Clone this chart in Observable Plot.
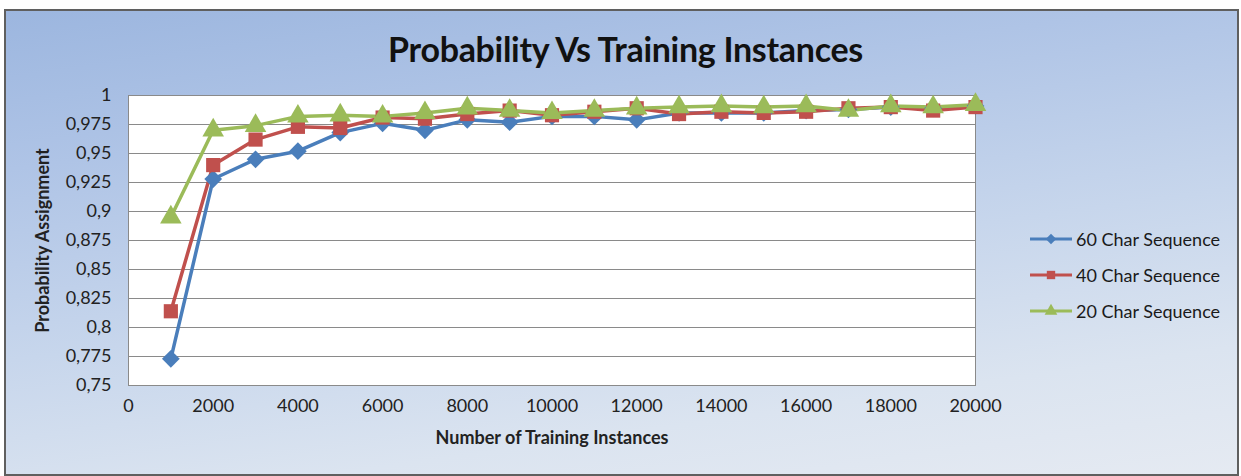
<!DOCTYPE html>
<html>
<head>
<meta charset="utf-8">
<script src="https://cdn.jsdelivr.net/npm/d3@7"></script>
<script src="https://cdn.jsdelivr.net/npm/@observablehq/plot@0.6"></script>
<style>
  html, body { margin: 0; padding: 0; background: #ffffff; }
  #wrap { position: relative; width: 1241px; height: 476px; overflow: hidden; font-family: Lato, "Open Sans", sans-serif; }
  #panel { position: absolute; left: 4px; top: 9px; width: 1231px; height: 463px;
    border: 2px solid #5f5f5f; border-bottom-width: 3px;
    background: linear-gradient(172deg, #9cb6df 0%, #afc4e6 25%, #c7d6ec 55%, #dbe4f0 80%, #e5eaf2 100%); }
  #title { position: absolute; left: 0; width: 1251px; top: 28px; text-align: center;
    font-family: Lato, sans-serif; font-weight: 700; font-size: 34px; color: #111; letter-spacing: -0.3px; }
  #chart { position: absolute; left: 0; top: 0; }
  #legend { position: absolute; left: 1030px; top: 221px; font-size: 18px; color: #1a1a1a; }
  .item { height: 36px; display: flex; align-items: center; }
  .item svg { margin-right: 2px; }
  svg [aria-label="x-axis label"], svg [aria-label="y-axis label"] { font-weight: 700; }
</style>
</head>
<body>
<div id="wrap">
  <div id="panel"></div>
  <div id="title">Probability Vs Training Instances</div>
  <div id="chart"></div>
  <div id="legend"></div>
</div>
<script>
const instances = [1000,2000,3000,4000,5000,6000,7000,8000,9000,10000,11000,12000,13000,14000,15000,16000,17000,18000,19000,20000];
const seq60 = [0.773,0.928,0.945,0.952,0.968,0.976,0.970,0.979,0.977,0.982,0.982,0.979,0.985,0.985,0.985,0.987,0.988,0.990,0.989,0.991];
const seq40 = [0.814,0.940,0.962,0.973,0.972,0.981,0.980,0.984,0.987,0.983,0.986,0.989,0.984,0.986,0.985,0.986,0.989,0.990,0.987,0.990];
const seq20 = [0.895,0.970,0.974,0.982,0.983,0.982,0.985,0.989,0.987,0.985,0.987,0.989,0.990,0.991,0.990,0.991,0.987,0.991,0.990,0.992];
const seriesNames = ["60 Char Sequence", "40 Char Sequence", "20 Char Sequence"];
const seriesColors = ["#4a7ebb", "#c0504d", "#9bbb59"];
const seriesSymbols = ["diamond2", "square", "triangle"];
const xTicks = [0,2000,4000,6000,8000,10000,12000,14000,16000,18000,20000];
const yTicks = [0.75,0.775,0.8,0.825,0.85,0.875,0.9,0.925,0.95,0.975,1];

const values = [seq60, seq40, seq20];
const data = [];
seriesNames.forEach((s, i) => instances.forEach((x, j) => data.push({series: s, x, y: values[i][j]})));

const chart = Plot.plot({
  width: 1241,
  height: 476,
  marginLeft: 128,
  marginRight: 266,
  marginTop: 95,
  marginBottom: 91,
  style: {background: "transparent", fontFamily: "Lato, 'Open Sans', sans-serif", fontSize: "18px", color: "#222"},
  x: {domain: [0, 20000]},
  y: {domain: [0.75, 1]},
  color: {domain: seriesNames, range: seriesColors},
  symbol: {domain: seriesNames, range: seriesSymbols},
  marks: [
    Plot.frame({fill: "white", stroke: "none"}),
    Plot.gridY(yTicks, {stroke: "#8a8a8a", strokeOpacity: 1, strokeWidth: 1}),
    Plot.frame({stroke: "#8a8a8a"}),
    Plot.axisX(xTicks, {tickSize: 0, tickPadding: 14, tickFormat: d => String(d), fontSize: 18,
      label: "Number of Training Instances", labelAnchor: "center", labelArrow: "none", labelOffset: 58}),
    Plot.axisY(yTicks, {tickSize: 0, tickPadding: 17, tickFormat: d => String(d).replace(".", ","), fontSize: 18,
      label: "Probability Assignment", labelAnchor: "center", labelArrow: "none", labelOffset: 92}),
    Plot.line(data, {x: "x", y: "y", z: "series", stroke: "series", strokeWidth: 3.5}),
    Plot.dot(data, {x: "x", y: "y", symbol: "series", fill: "series", stroke: "none", r: 8})
  ]
});
document.getElementById("chart").appendChild(chart);

const legend = document.getElementById("legend");
seriesNames.forEach((s, i) => {
  const item = document.createElement("div");
  item.className = "item";
  const sw = d3.create("svg").attr("width", 44).attr("height", 16);
  sw.append("line").attr("x1", 0).attr("x2", 42).attr("y1", 8).attr("y2", 8)
    .attr("stroke", seriesColors[i]).attr("stroke-width", 3);
  const symMap = {diamond2: d3.symbolDiamond2, square: d3.symbolSquare, triangle: d3.symbolTriangle};
  sw.append("path").attr("transform", "translate(21,8)")
    .attr("d", d3.symbol(symMap[seriesSymbols[i]], 70)()).attr("fill", seriesColors[i]);
  item.appendChild(sw.node());
  const t = document.createElement("span");
  t.textContent = s;
  item.appendChild(t);
  legend.appendChild(item);
});
</script>
</body>
</html>
